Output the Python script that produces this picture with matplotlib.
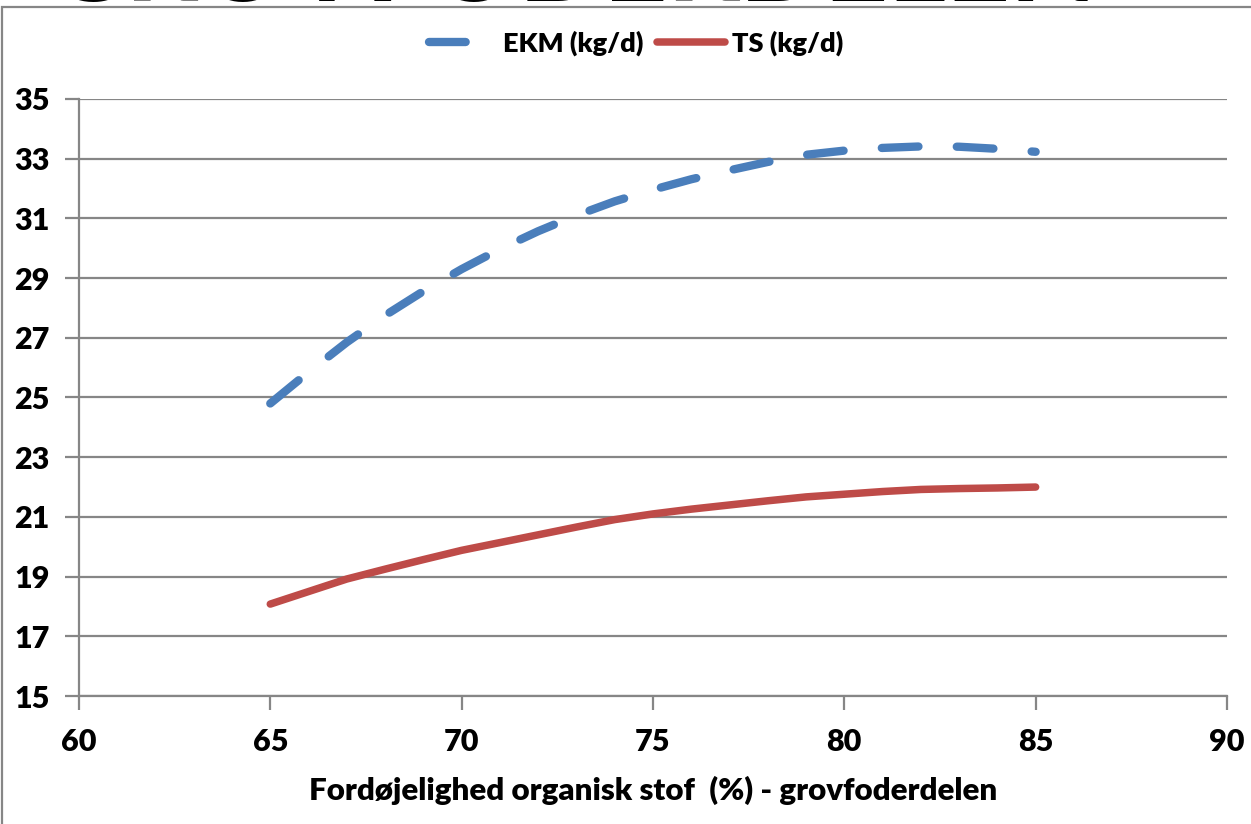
import matplotlib
matplotlib.use('Agg')
import matplotlib.pyplot as plt
from matplotlib.patches import Rectangle

plt.rcParams['font.family'] = ['Lato', 'DejaVu Sans']
plt.rcParams['font.weight'] = 'bold'

# fordøjelighed af organisk stof (%) og ydelse (kg/d)
fordoejelighed = list(range(65, 86))
ekm = [24.8, 25.85, 26.85, 27.75, 28.56, 29.3, 29.97, 30.57, 31.1, 31.57,
       31.96, 32.31, 32.61, 32.89, 33.13, 33.27, 33.36, 33.41, 33.4, 33.33,
       33.23]
ts = [18.08, 18.5, 18.92, 19.25, 19.57, 19.88, 20.14, 20.4, 20.66, 20.91,
      21.1, 21.26, 21.4, 21.54, 21.67, 21.76, 21.85, 21.92, 21.95, 21.97,
      22.0]

x_ticks = [60, 65, 70, 75, 80, 85, 90]
y_ticks = [15, 17, 19, 21, 23, 25, 27, 29, 31, 33, 35]

blaa = '#4A7EBB'
roed = '#BE4B48'
graa = '#868686'

fig = plt.figure(figsize=(12.51, 8.24), dpi=100)
ax = fig.add_axes([0.0631, 0.1553, 0.9177, 0.7246])

ax.plot(fordoejelighed, ekm, color=blaa, lw=6, linestyle=(0, (4.4, 4.6)),
        dash_capstyle='round', solid_capstyle='round', label='EKM (kg/d)')
ax.plot(fordoejelighed, ts, color=roed, lw=5.4, solid_capstyle='round',
        label='TS (kg/d)')

ax.set_xlim(60, 90)
ax.set_ylim(15, 35)
ax.set_xticks(x_ticks)
ax.set_yticks(y_ticks)
ax.grid(axis='y', color=graa, lw=1.6)
ax.set_axisbelow(True)

for side in ['top', 'right']:
    ax.spines[side].set_visible(False)
for side in ['left', 'bottom']:
    ax.spines[side].set_color(graa)
    ax.spines[side].set_linewidth(1.6)

ax.tick_params(axis='both', color=graa, width=1.6, length=10, labelsize=22)
ax.tick_params(axis='x', pad=13)
ax.tick_params(axis='y', pad=11)
for lbl in ax.get_xticklabels() + ax.get_yticklabels():
    lbl.set_fontweight('heavy')

ax.set_xlabel('Fordøjelighed organisk stof  (%) - grovfoderdelen',
              fontsize=22.5, fontweight='heavy', labelpad=14)

leg = ax.legend(loc='upper center', bbox_to_anchor=(0.485, 1.155), ncol=2,
                frameon=False, fontsize=19.5, handlelength=2.5,
                handletextpad=0.25, columnspacing=0.5)
for t in leg.get_texts():
    t.set_fontweight('heavy')

# ramme om diagrammet
fig.patches.append(Rectangle((2 / 1251, -0.1), 1.2, 1.1 - 7 / 824,
                             transform=fig.transFigure, fill=False,
                             edgecolor=graa, lw=1.6))

# overskriften ligger over diagramrammen
fig.text(0.456, 1 - 1.5 / 824, 'GROVFODERDELEN', ha='center', va='baseline',
         fontsize=80, fontweight='black', color='black')

fig.savefig('out.png', dpi=100)
